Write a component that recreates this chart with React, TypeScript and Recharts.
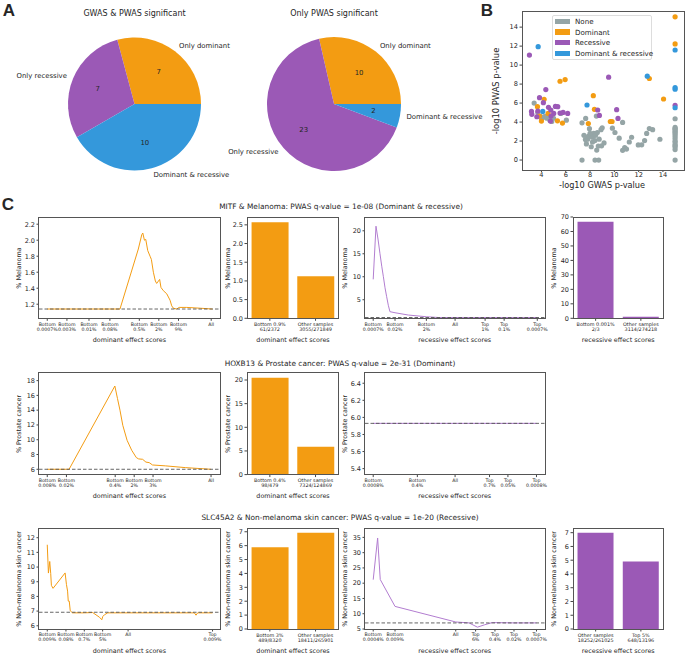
import React from "react";
import {
  PieChart, Pie, Cell, ScatterChart, Scatter, LineChart, Line, BarChart, Bar,
  XAxis, YAxis, ReferenceLine
} from "recharts";

const ORANGE = "#f39c12";
const PURPLE = "#9b59b6";
const BLUE = "#3498db";
const GRAY = "#95a5a6";
const LINE_PURPLE = "#b27dd0";
const TXT = "#262626";
const FONT = "'DejaVu Sans', sans-serif";

// ---------- panel A : pies
const pieCategories = ["Only dominant", "Only recessive", "Dominant & recessive"];
const pieColors = [ORANGE, PURPLE, BLUE];
const bothSigCounts = [7, 7, 10];
const onlyPwasCounts = [10, 23, 2];

// ---------- panel B : scatter (-log10 GWAS p, -log10 PWAS p)
const noneX = [3.4, 3.7, 3.9, 4.0, 4.16, 4.3, 4.45, 4.6, 4.7, 4.85, 5.0, 5.6, 6.05,
  7.34, 7.34, 7.5, 7.62, 7.64, 7.7, 7.8, 7.86, 7.95, 8.0, 8.1, 8.19, 8.2, 8.3, 8.4, 8.41, 8.45, 8.52, 8.55,
  8.6, 8.68, 8.71, 8.75, 8.9, 8.95, 9.0, 9.15, 9.84, 10.05, 10.4, 10.68, 10.68, 10.85, 11.0, 11.23, 11.42,
  11.97, 12.25, 12.49, 12.66, 12.88, 13.15, 13.75,
  15, 15, 15, 15, 15, 15, 15, 15, 15, 15, 15, 15, 15, 15, 15, 15];
const noneY = [6.0, 5.0, 4.6, 4.35, 4.52, 4.6, 4.4, 4.6, 4.2, 4.06, 4.4, 4.9, 4.2,
  3.92, 0, 2.6, 2.16, 4.38, 1.7, 2.2, 2.5, 3.3, 2.8, 1.4, 2.4, 1.9, 2.8, 2.05, 0, 2.6, 4.63, 1.05,
  2.9, 1.48, 0, 2.2, 3.2, 1.5, 3.4, 1.8, 3.36, 2.9, 2.3, 3.96, 1.02, 1.3, 1.15, 1.9, 2.4,
  1.59, 1.6, 2.05, 2.8, 3.32, 3.2, 2.19,
  4.35, 3.43, 3.22, 3.04, 2.72, 2.5, 2.26, 1.9, 1.66, 1.38, 1.1, 0, 2.9, 2.0, 3.3, 1.5];
const domX = [4.22, 3.67, 4.0, 4.55, 5.32, 5.73, 5.53, 5.95, 8.27, 8.36, 7.86, 9.67, 9.81, 12.88, 14.05, 15, 15, 3.84];
const domY = [6.4, 5.62, 4.1, 4.91, 4.13, 3.89, 8.3, 8.48, 6.78, 5.34, 3.85, 4.06, 4.06, 8.59, 6.43, 15.09, 12.23, 4.63];
const recX = [3.01, 4.36, 3.84, 3.18, 3.21, 3.7, 4.16, 4.58, 4.77, 4.79, 5.01, 5.15, 5.34, 5.53, 5.78, 6.16,
  4.74, 3.62, 8.63, 8.77, 9.53, 10.19, 10.3, 15];
const recY = [11.06, 7.42, 6.57, 5.12, 4.81, 5.16, 6.04, 5.55, 5.27, 4.63, 4.91, 5.65, 5.62, 4.95, 5.02, 4.91,
  4.1, 4.56, 5.27, 4.7, 8.73, 5.3, 4.38, 5.76];
const bothX = [3.73, 4.11, 7.75, 12.71, 15, 15, 15, 15];
const bothY = [11.94, 5.12, 5.8, 8.83, 11.59, 7.63, 7.46, 5.51];
const scatterXTicks = [4, 6, 8, 10, 12, 14];
const scatterYTicks = [0, 2, 4, 6, 8, 10, 12, 14];

// ---------- panel C, row 1 : MITF & Melanoma
const mitfDomX = [0, 0.119, 0.2525, 0.379, 0.44, 0.551, 0.572, 0.578, 0.588, 0.596, 0.608, 0.622, 0.63, 0.642,
  0.654, 0.662, 0.68, 0.688, 0.702, 0.723, 0.743, 0.753, 0.763, 0.783, 0.798, 0.844, 0.925, 1.0];
const mitfDomY = [1.14, 1.14, 1.14, 1.14, 1.14, 1.89, 2.07, 2.09, 2.0, 2.01, 1.87, 1.8, 1.76, 1.6,
  1.49, 1.46, 1.51, 1.41, 1.37, 1.33, 1.25, 1.18, 1.15, 1.14, 1.16, 1.16, 1.15, 1.14];
const mitfDomTicks = [0, 0.119, 0.2525, 0.379, 0.557, 0.675, 0.794, 0.992];
const mitfDomLabels = ["Bottom\n0.0007%", "Bottom\n0.003%", "Bottom\n0.01%", "Bottom\n0.08%", "Bottom\n0.5%",
  "Bottom\n2%", "Bottom\n9%", "All"];
const mitfRecX = [0, 0.017, 0.03, 0.041, 0.052, 0.062, 0.072, 0.082, 0.092, 0.102, 0.133, 0.214, 0.324, 0.4, 1.0];
const mitfRecY = [9.43, 21.0, 18.0, 15.1, 12.3, 10.0, 7.6, 5.65, 3.8, 2.4, 2.17, 1.67, 1.3, 1.13, 1.13];
const mitfRecTicks = [0, 0.133, 0.324, 0.499, 0.682, 0.798, 1.0];
const mitfRecLabels = ["Bottom\n0.0007%", "Bottom\n0.02%", "Bottom\n2%", "All", "Top\n1%", "Top\n0.1%", "Top\n0.0007%"];
const mitfDomBarLabels = ["Bottom 0.9%\n61/2372", "Other samples\n3055/271849"];
const mitfDomBarValues = [2.572, 1.124];
const mitfRecBarLabels = ["Bottom 0.001%\n2/3", "Other samples\n3114/274218"];
const mitfRecBarValues = [66.67, 1.136];

// ---------- row 2 : HOXB13 & Prostate cancer
const hoxDomX = [0, 0.116, 0.132, 0.409, 0.425, 0.44, 0.457, 0.483, 0.511, 0.539, 0.553, 0.577, 0.597, 0.617,
  0.637, 0.717, 0.838, 0.99];
const hoxDomY = [6, 6, 6, 17.27, 15.56, 14.0, 11.95, 9.92, 8.57, 7.58, 7.4, 7.35, 6.97, 6.9, 6.58, 6.46, 6.22, 6.0];
const hoxDomTicks = [0, 0.116, 0.411, 0.526, 0.64, 0.991];
const hoxDomLabels = ["Bottom\n0.008%", "Bottom\n0.02%", "Bottom\n0.4%", "Bottom\n2%", "Bottom\n3%", "All"];
const hoxRecX = [0, 0.269, 0.499, 0.709, 0.821, 0.995];
const hoxRecY = [5.93, 5.93, 5.93, 5.93, 5.93, 5.93];
const hoxRecTicks = [0, 0.269, 0.499, 0.709, 0.821, 0.995];
const hoxRecLabels = ["Bottom\n0.0008%", "Bottom\n0.4%", "All", "Top\n0.7%", "Top\n0.05%", "Top\n0.0008%"];
const hoxDomBarLabels = ["Bottom 0.4%\n98/479", "Other samples\n7324/124869"];
const hoxDomBarValues = [20.46, 5.865];

// ---------- row 3 : SLC45A2 & Non-melanoma skin cancer
const slcDomX = [0, 0.007, 0.015, 0.021, 0.025, 0.035, 0.108, 0.116, 0.123, 0.127, 0.133, 0.139, 0.153, 0.224,
  0.275, 0.316, 0.33, 0.336, 0.346, 0.366, 0.89, 0.9, 0.91, 1.0];
const slcDomY = [11.52, 9.59, 10.38, 9.55, 8.75, 8.55, 9.6, 8.82, 8.36, 7.68, 7.68, 7.02, 6.88, 6.88,
  6.9, 6.58, 6.41, 6.63, 6.75, 6.88, 6.88, 6.72, 6.88, 6.88];
const slcDomTicks = [0, 0.113, 0.224, 0.335, 0.489, 1.0];
const slcDomLabels = ["Bottom\n0.009%", "Bottom\n0.08%", "Bottom\n0.7%", "Bottom\n5%", "All", "Top\n0.009%"];
const slcRecX = [0, 0.027, 0.043, 0.133, 0.503, 0.584, 0.635, 0.68, 0.725, 0.858, 0.995];
const slcRecY = [21.15, 34.8, 21.2, 12.4, 7.3, 7.0, 5.6, 6.4, 7.1, 7.0, 7.0];
const slcRecTicks = [0, 0.133, 0.503, 0.624, 0.742, 0.858, 0.995];
const slcRecLabels = ["Bottom\n0.0004%", "Bottom\n0.009%", "All", "Top\n6%", "Top\n0.4%", "Top\n0.02%", "Top\n0.0007%"];
const slcDomBarLabels = ["Bottom 3%\n489/8320", "Other samples\n18411/265901"];
const slcDomBarValues = [5.877, 6.924];
const slcRecBarLabels = ["Other samples\n18252/261025", "Top 5%\n648/13196"];
const slcRecBarValues = [6.992, 4.911];

const rowTitles = [
  "MITF & Melanoma: PWAS q-value = 1e-08 (Dominant & recessive)",
  "HOXB13 & Prostate cancer: PWAS q-value = 2e-31 (Dominant)",
  "SLC45A2 & Non-melanoma skin cancer: PWAS q-value = 1e-20 (Recessive)",
];

// plot areas
const C1 = [38.5, 220.3];
const C2 = [247.3, 338.7];
const C3 = [364.5, 545];
const C4 = [573, 663.5];
const R1 = [217, 318.3];
const R2 = [372.7, 474.3];
const R3 = [528.3, 629.3];

type Box = { x0: number; y0: number; x1: number; y1: number };
const box = (c: number[], r: number[]): Box => ({ x0: c[0], x1: c[1], y0: r[0], y1: r[1] });

const Frame = ({ b }: { b: Box }) => (
  <div style={{
    position: "absolute", left: b.x0 - 0.5, top: b.y0 - 0.5, width: b.x1 - b.x0 + 1, height: b.y1 - b.y0 + 1,
    border: "1px solid #555", boxSizing: "border-box", pointerEvents: "none"
  }} />
);

const Txt = ({ x, y, text, size, rotate, weight, family }: any) => (
  <div style={{
    position: "absolute", left: x, top: y, whiteSpace: "nowrap", fontSize: size, color: TXT, lineHeight: 1,
    fontWeight: weight || "normal", fontFamily: family || FONT,
    transform: `translate(-50%, -50%)${rotate ? " rotate(-90deg)" : ""}`
  }}>{text}</div>
);

function TwoLineTick(props: any) {
  const { x, y, payload, labels, ticks, size } = props;
  let text = payload.value;
  if (ticks) {
    const idx = ticks.findIndex((t: number) => Math.abs(t - payload.value) < 1e-9);
    text = labels[idx];
  }
  const lines = String(text ?? "").split("\n");
  return (
    <text x={x} y={y} textAnchor="middle" fontSize={size} fill={TXT}>
      {lines.map((l, i) => (
        <tspan key={i} x={x} dy={size * 1.05}>{l}</tspan>
      ))}
    </text>
  );
}

const L = 30, T = 4, R = 4, B = 26;

function LinePanel({ b, xs, ys, base, ticks, labels, yDomain, yTicks, dec, color, yLabel, xLabel }: any) {
  const data = xs.map((x: number, i: number) => ({ x, y: ys[i] }));
  const w = b.x1 - b.x0 + L + R;
  const h = b.y1 - b.y0 + T + B;
  return (
    <>
      <div style={{ position: "absolute", left: b.x0 - L, top: b.y0 - T }}>
        <LineChart width={w} height={h} data={data} margin={{ top: T, right: R, left: 0, bottom: 0 }}>
          <XAxis dataKey="x" type="number" domain={[-0.05, 1.05]} ticks={ticks} interval={0} height={B}
            axisLine={false} tickLine={{ stroke: "#444" }} tickSize={2.5} tickMargin={0} allowDataOverflow
            tick={<TwoLineTick labels={labels} ticks={ticks} size={4.7} />} />
          <YAxis type="number" domain={yDomain} ticks={yTicks} width={L} axisLine={false} allowDataOverflow
            tickLine={{ stroke: "#444" }} tickSize={2.5} tickMargin={1.5} interval={0}
            tickFormatter={(v: number) => v.toFixed(dec)} tick={{ fontSize: 6.5, fill: TXT }} />
          <Line dataKey="y" type="linear" stroke={color} strokeWidth={1} dot={false} isAnimationActive={false} />
          <ReferenceLine y={base} stroke="#555" strokeWidth={0.9} strokeDasharray="3.5 2" />
        </LineChart>
      </div>
      <Frame b={b} />
      <Txt x={b.x0 - 20} y={(b.y0 + b.y1) / 2} text={yLabel} size={6.4} rotate />
      <Txt x={(b.x0 + b.x1) / 2} y={b.y1 + 22} text={xLabel} size={6.4} />
    </>
  );
}

function BarPanel({ b, labels, values, yDomain, yTicks, dec, color, yLabel, xLabel }: any) {
  const data = labels.map((name: string, i: number) => ({ name, v: values[i] }));
  const w = b.x1 - b.x0 + L + R;
  const h = b.y1 - b.y0 + T + B;
  return (
    <>
      <div style={{ position: "absolute", left: b.x0 - L, top: b.y0 - T }}>
        <BarChart width={w} height={h} data={data} margin={{ top: T, right: R, left: 0, bottom: 0 }}
          barCategoryGap="10%">
          <XAxis dataKey="name" type="category" height={B} axisLine={false} interval={0}
            tickLine={{ stroke: "#444" }} tickSize={2.5} tickMargin={0}
            tick={<TwoLineTick size={4.9} />} />
          <YAxis type="number" domain={yDomain} ticks={yTicks} width={L} axisLine={false} allowDataOverflow
            tickLine={{ stroke: "#444" }} tickSize={2.5} tickMargin={1.5} interval={0}
            tickFormatter={(v: number) => v.toFixed(dec)} tick={{ fontSize: 6.5, fill: TXT }} />
          <Bar dataKey="v" fill={color} isAnimationActive={false} />
        </BarChart>
      </div>
      <Frame b={b} />
      <Txt x={b.x0 - 19} y={(b.y0 + b.y1) / 2} text={yLabel} size={6.4} rotate />
      <Txt x={(b.x0 + b.x1) / 2} y={b.y1 + 22} text={xLabel} size={6.4} />
    </>
  );
}

const RAD = Math.PI / 180;
function pieLabel(props: any) {
  const { cx, cy, midAngle, outerRadius, name, value } = props;
  const cos = Math.cos(-midAngle * RAD);
  const sin = Math.sin(-midAngle * RAD);
  const ox = cx + outerRadius * 1.1 * cos;
  const oy = cy + outerRadius * 1.1 * sin;
  const ix = cx + outerRadius * 0.6 * cos;
  const iy = cy + outerRadius * 0.6 * sin;
  return (
    <g>
      <text x={ox} y={oy} textAnchor={ox > cx ? "start" : "end"} dominantBaseline="central" fontSize={6.9} fill={TXT}>{name}</text>
      <text x={ix} y={iy} textAnchor="middle" dominantBaseline="central" fontSize={6.9} fill={TXT}>{value}</text>
    </g>
  );
}

const mk = (xs: number[], ys: number[]) => xs.map((x, i) => ({ x, y: ys[i] }));
const dot = (color: string) => (p: any) => <circle cx={p.cx} cy={p.cy} r={2.6} fill={color} />;

const legendItems = [["None", GRAY], ["Dominant", ORANGE], ["Recessive", PURPLE], ["Dominant & recessive", BLUE]];

export default function App() {
  const pie1 = pieCategories.map((name, i) => ({ name, value: bothSigCounts[i] }));
  const pie2 = pieCategories.map((name, i) => ({ name, value: onlyPwasCounts[i] }));
  const b = (c: number[], r: number[]) => box(c, r);
  return (
    <div style={{ position: "absolute", left: 0, top: 0, width: 685, height: 655, background: "#fff", fontFamily: FONT, overflow: "hidden" }}>
      {/* panel letters */}
      <Txt x={9} y={9.5} text="A" size={17} weight="bold" family="'Liberation Sans', Arial, sans-serif" />
      <Txt x={487} y={9.5} text="B" size={17} weight="bold" family="'Liberation Sans', Arial, sans-serif" />
      <Txt x={8} y={204} text="C" size={17} weight="bold" family="'Liberation Sans', Arial, sans-serif" />

      {/* A */}
      <Txt x={134.5} y={13.5} text="GWAS & PWAS significant" size={8} />
      <Txt x={334} y={13.5} text="Only PWAS significant" size={8} />
      <div style={{ position: "absolute", left: 0, top: 0 }}>
        <PieChart width={500} height={185} margin={{ top: 0, right: 0, bottom: 0, left: 0 }}>
          <Pie data={pie1} dataKey="value" nameKey="name" cx={134.5} cy={104} outerRadius={66.5} startAngle={0} endAngle={360}
            stroke="none" label={pieLabel} labelLine={false} isAnimationActive={false}>
            {pie1.map((_, i) => <Cell key={i} fill={pieColors[i]} />)}
          </Pie>
          <Pie data={pie2} dataKey="value" nameKey="name" cx={334} cy={104} outerRadius={67} startAngle={0} endAngle={360}
            stroke="none" label={pieLabel} labelLine={false} isAnimationActive={false}>
            {pie2.map((_, i) => <Cell key={i} fill={pieColors[i]} />)}
          </Pie>
        </PieChart>
      </div>

      {/* B */}
      <div style={{ position: "absolute", left: 480, top: 0 }}>
        <ScatterChart width={205} height={189} margin={{ top: 11, right: 2, left: 0, bottom: 0 }}>
          <XAxis type="number" dataKey="x" domain={[2.4, 15.65]} ticks={scatterXTicks} height={19} axisLine={false}
            tickLine={{ stroke: "#444" }} tickSize={2} tickMargin={0} allowDataOverflow interval={0}
            tick={{ fontSize: 6.6, fill: TXT }} />
          <YAxis type="number" dataKey="y" domain={[-1.05, 15.7]} ticks={scatterYTicks} width={42} axisLine={false}
            tickLine={{ stroke: "#444" }} tickSize={2.5} tickMargin={1.5} allowDataOverflow interval={0}
            tick={{ fontSize: 6.6, fill: TXT }} />
          <Scatter data={mk(noneX, noneY)} fill={GRAY} shape={dot(GRAY)} isAnimationActive={false} />
          <Scatter data={mk(domX, domY)} fill={ORANGE} shape={dot(ORANGE)} isAnimationActive={false} />
          <Scatter data={mk(recX, recY)} fill={PURPLE} shape={dot(PURPLE)} isAnimationActive={false} />
          <Scatter data={mk(bothX, bothY)} fill={BLUE} shape={dot(BLUE)} isAnimationActive={false} />
        </ScatterChart>
      </div>
      <Frame b={{ x0: 522, x1: 684.5, y0: 11, y1: 170 }} />
      <Txt x={496} y={90.5} text="-log10 PWAS p-value" size={8.4} rotate />
      <Txt x={602} y={185} text="-log10 GWAS p-value" size={8.2} />
      <div style={{
        position: "absolute", left: 552, top: 14.5, width: 100, height: 45.5, background: "rgba(255,255,255,0.85)",
        border: "1px solid #ddd", borderRadius: 2, boxSizing: "border-box"
      }}>
        {legendItems.map(([name, c], i) => (
          <div key={name} style={{ position: "absolute", left: 1.5, top: 3 + i * 10.6, height: 6, display: "flex", alignItems: "center" }}>
            <div style={{ width: 15.5, height: 5.5, background: c }} />
            <div style={{ marginLeft: 5, fontSize: 7.1, color: TXT, whiteSpace: "nowrap", lineHeight: 1 }}>{name}</div>
          </div>
        ))}
      </div>

      {/* C titles */}
      <Txt x={341} y={207} text={rowTitles[0]} size={7.4} />
      <Txt x={340} y={364.3} text={rowTitles[1]} size={7.4} />
      <Txt x={340} y={518.3} text={rowTitles[2]} size={7.4} />

      {/* row 1 */}
      <LinePanel b={b(C1, R1)} xs={mitfDomX} ys={mitfDomY} base={1.14} ticks={mitfDomTicks} labels={mitfDomLabels}
        yDomain={[1.024, 2.29]} yTicks={[1.2, 1.4, 1.6, 1.8, 2.0, 2.2]} dec={1} color={ORANGE}
        yLabel="% Melanoma" xLabel="dominant effect scores" />
      <BarPanel b={b(C2, R1)} labels={mitfDomBarLabels} values={mitfDomBarValues} yDomain={[0, 2.71]}
        yTicks={[0, 0.5, 1.0, 1.5, 2.0, 2.5]} dec={1} color={ORANGE} yLabel="% Melanoma" xLabel="dominant effect scores" />
      <LinePanel b={b(C3, R1)} xs={mitfRecX} ys={mitfRecY} base={1.13} ticks={mitfRecTicks} labels={mitfRecLabels}
        yDomain={[0.96, 23]} yTicks={[5, 10, 15, 20]} dec={0} color={LINE_PURPLE}
        yLabel="% Melanoma" xLabel="recessive effect scores" />
      <BarPanel b={b(C4, R1)} labels={mitfRecBarLabels} values={mitfRecBarValues} yDomain={[0, 70]}
        yTicks={[0, 10, 20, 30, 40, 50, 60, 70]} dec={0} color={PURPLE} yLabel="% Melanoma" xLabel="recessive effect scores" />

      {/* row 2 */}
      <LinePanel b={b(C1, R2)} xs={hoxDomX} ys={hoxDomY} base={6.0} ticks={hoxDomTicks} labels={hoxDomLabels}
        yDomain={[5.28, 19.03]} yTicks={[6, 8, 10, 12, 14, 16, 18]} dec={0} color={ORANGE}
        yLabel="% Prostate cancer" xLabel="dominant effect scores" />
      <BarPanel b={b(C2, R2)} labels={hoxDomBarLabels} values={hoxDomBarValues} yDomain={[0, 21.48]}
        yTicks={[0, 5, 10, 15, 20]} dec={0} color={ORANGE} yLabel="% Prostate cancer" xLabel="dominant effect scores" />
      <LinePanel b={b(C3, R2)} xs={hoxRecX} ys={hoxRecY} base={5.93} ticks={hoxRecTicks} labels={hoxRecLabels}
        yDomain={[5.33, 6.52]} yTicks={[5.4, 5.6, 5.8, 6.0, 6.2, 6.4]} dec={1} color={LINE_PURPLE}
        yLabel="% Prostate cancer" xLabel="recessive effect scores" />

      {/* row 3 */}
      <LinePanel b={b(C1, R3)} xs={slcDomX} ys={slcDomY} base={6.92} ticks={slcDomTicks} labels={slcDomLabels}
        yDomain={[5.78, 12.66]} yTicks={[6, 7, 8, 9, 10, 11, 12]} dec={0} color={ORANGE}
        yLabel="% Non-melanoma skin cancer" xLabel="dominant effect scores" />
      <BarPanel b={b(C2, R3)} labels={slcDomBarLabels} values={slcDomBarValues} yDomain={[0, 7.27]}
        yTicks={[0, 1, 2, 3, 4, 5, 6, 7]} dec={0} color={ORANGE} yLabel="% Non-melanoma skin cancer" xLabel="dominant effect scores" />
      <LinePanel b={b(C3, R3)} xs={slcRecX} ys={slcRecY} base={6.99} ticks={slcRecTicks} labels={slcRecLabels}
        yDomain={[5, 38.07]} yTicks={[5, 10, 15, 20, 25, 30, 35]} dec={0} color={LINE_PURPLE}
        yLabel="% Non-melanoma skin cancer" xLabel="recessive effect scores" />
      <BarPanel b={b(C4, R3)} labels={slcRecBarLabels} values={slcRecBarValues} yDomain={[0, 7.34]}
        yTicks={[0, 1, 2, 3, 4, 5, 6, 7]} dec={0} color={PURPLE} yLabel="% Non-melanoma skin cancer" xLabel="recessive effect scores" />
    </div>
  );
}
